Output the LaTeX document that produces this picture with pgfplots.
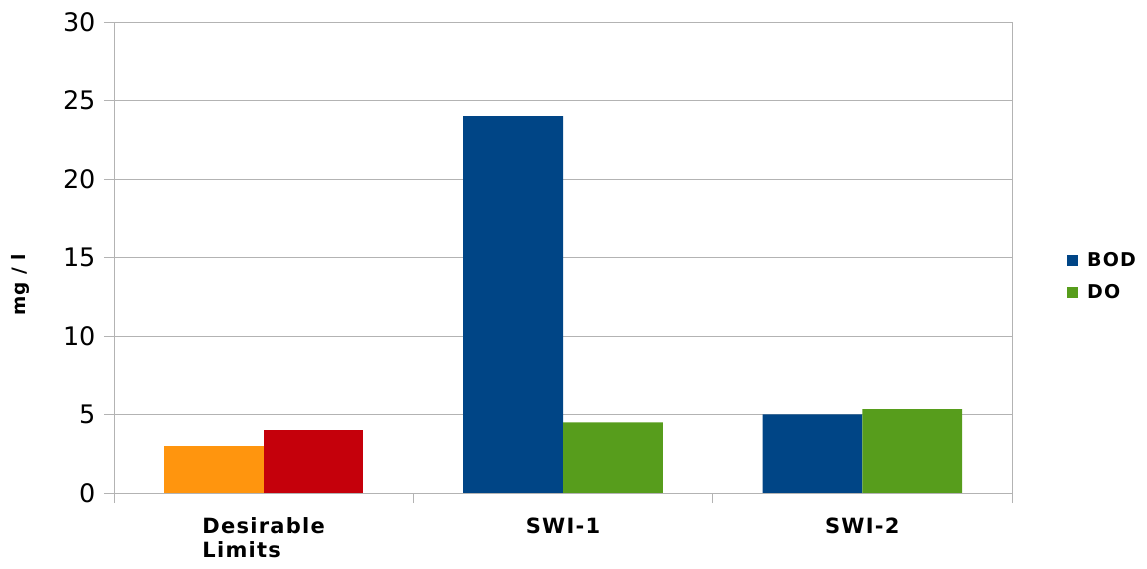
\documentclass[border=0pt]{standalone}
\usepackage{fontspec}
\setmainfont{DejaVu Sans}
\newfontfamily\lsfont[LetterSpace=6]{DejaVu Sans}
\usepackage{pgfplots}
\pgfplotsset{compat=1.18}
\definecolor{loorange}{HTML}{FF950E}
\definecolor{lored}{HTML}{C5000B}
\definecolor{loblue}{HTML}{004586}
\definecolor{logreen}{HTML}{579D1C}
\definecolor{gridgray}{HTML}{B3B3B3}
\begin{document}
\begin{tikzpicture}
\begin{axis}[
  at={(0,0)}, anchor=south west,
  scale only axis, width=898pt, height=471pt,
  xmin=-0.5, xmax=2.5, ymin=0, ymax=30,
  ybar, bar width=0.3333,
  ytick={0,5,10,15,20,25,30},
  xtick={0,1,2},
  xticklabels={{Desirable\\Limits},{SWI-1},{SWI-2}},
  minor xtick={-0.5,0.5,1.5,2.5},
  major x tick style={draw=none},
  tick align=outside, tick pos=left,
  major tick length=10pt, minor tick length=10pt,
  tick style={color=gridgray, line width=0.8pt},
  axis line style={gridgray, line width=0.8pt},
  ymajorgrids, grid style={gridgray, line width=0.8pt},
  xticklabel style={align=left, font=\lsfont\bfseries\fontsize{21}{24}\selectfont, yshift=-11pt},
  yticklabel style={font=\fontsize{25.5}{29}\selectfont, xshift=-5pt},
  /pgf/number format/assume math mode=true,
  ylabel={mg / l},
  ylabel style={at={(axis description cs:-0.1036,0.4416)}, anchor=center, font=\lsfont\bfseries\fontsize{18.5}{22}\selectfont},
  legend style={at={(1.0612,0.46)}, anchor=west, draw=none, fill=none, inner sep=0pt,
    font=\lsfont\bfseries\fontsize{19}{22}\selectfont, row sep=12pt,
    /tikz/every odd column/.append style={column sep=7pt}},
  legend cell align=left,
  legend image code/.code={\fill[#1] (0pt,-5.5pt) rectangle (11pt,5.5pt);},
]
\addplot[fill=loorange, draw=none, bar shift=-0.16667, forget plot] coordinates {(0,3)};
\addplot[fill=lored, draw=none, bar shift=0.16667, forget plot] coordinates {(0,4)};
\addplot[fill=loblue, draw=none, bar shift=-0.16667] coordinates {(1,24) (2,5)};
\addplot[fill=logreen, draw=none, bar shift=0.16667] coordinates {(1,4.5) (2,5.35)};
\legend{BOD,DO}
\end{axis}
\pgfresetboundingbox
\path (-114pt,-76pt) rectangle (1033pt,493pt);
\end{tikzpicture}
\end{document}
